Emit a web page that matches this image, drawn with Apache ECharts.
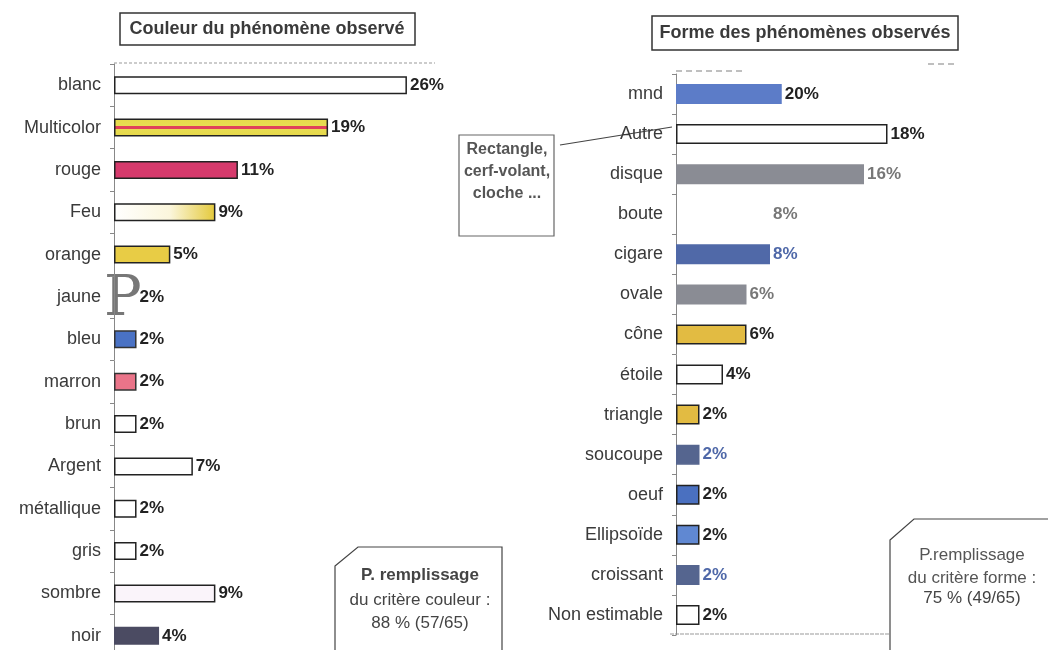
<!DOCTYPE html>
<html>
<head>
<meta charset="utf-8">
<script src="https://cdn.jsdelivr.net/npm/echarts@6/dist/echarts.min.js"></script>
<style>
  html, body { margin: 0; padding: 0; background: #fff; overflow: hidden; }
  #chart { width: 1048px; height: 662px; }
</style>
</head>
<body>
<div id="chart"></div>
<script>
// couleur du phénomène
const colorCats = ["blanc", "Multicolor", "rouge", "Feu", "orange", "jaune", "bleu", "marron", "brun", "Argent", "métallique", "gris", "sombre", "noir"];
const colorValues = [26, 19, 11, 9, 5, 2, 2, 2, 2, 7, 2, 2, 9, 4];

// forme des phénomènes
const shapeCats = ["mnd", "Autre", "disque", "boute", "cigare", "ovale", "cône", "étoile", "triangle", "soucoupe", "oeuf", "Ellipsoïde", "croissant", "Non estimable"];
const shapeValues = [9, 18, 16, 8, 8, 6, 6, 4, 2, 2, 2, 2, 2, 2];
const shapeLabels = ["20%", "18%", "16%", "8%", "8%", "6%", "6%", "4%", "2%", "2%", "2%", "2%", "2%", "2%"];

const FONT = "Liberation Sans";
const DARK = "#222";

const multi = {
  type: "linear", x: 0, y: 0, x2: 0, y2: 1,
  colorStops: [
    { offset: 0, color: "#e6d94a" }, { offset: 0.42, color: "#e8dc52" },
    { offset: 0.44, color: "#e0405a" }, { offset: 0.56, color: "#e0405a" },
    { offset: 0.58, color: "#e8dc52" }, { offset: 1, color: "#e6d94a" }
  ]
};
const feu = {
  type: "linear", x: 0, y: 0, x2: 1, y2: 0,
  colorStops: [{ offset: 0, color: "#ffffff" }, { offset: 0.55, color: "#fbf6dc" }, { offset: 1, color: "#e4c93a" }]
};

// fill, border, label colour
const colorStyles = [
  ["#ffffff", DARK, DARK],
  [multi, DARK, DARK],
  ["#d63a6c", DARK, DARK],
  [feu, DARK, DARK],
  ["#e8cc45", DARK, DARK],
  ["rgba(0,0,0,0)", "rgba(0,0,0,0)", DARK],
  ["#4a72c4", "#333", DARK],
  ["#ea7489", "#333", DARK],
  ["#ffffff", DARK, DARK],
  ["#ffffff", DARK, DARK],
  ["#ffffff", DARK, DARK],
  ["#ffffff", DARK, DARK],
  ["#faf4fa", DARK, DARK],
  ["#4b4b62", "#4b4b62", DARK]
];
const shapeStyles = [
  ["#5c7cc8", "#5c7cc8", DARK],
  ["#ffffff", DARK, DARK],
  ["#8a8c94", "#8a8c94", "#777"],
  ["rgba(0,0,0,0)", "rgba(0,0,0,0)", "#777"],
  ["#5069a8", "#5069a8", "#4f68a8"],
  ["#8a8c94", "#8a8c94", "#777"],
  ["#e2bb42", DARK, DARK],
  ["#ffffff", DARK, DARK],
  ["#e2bb42", DARK, DARK],
  ["#55658f", "#55658f", "#4f68a8"],
  ["#4a70c0", DARK, DARK],
  ["#6088d2", DARK, DARK],
  ["#55658f", "#55658f", "#4f68a8"],
  ["#ffffff", DARK, DARK]
];

function barData(values, styles, labels) {
  return values.map((v, i) => ({
    value: v,
    itemStyle: { color: styles[i][0], borderColor: styles[i][1], borderWidth: 1.5 },
    label: { color: styles[i][2], formatter: labels ? labels[i] : v + "%" }
  }));
}

const catAxis = (gridIndex, data) => ({
  type: "category",
  gridIndex: gridIndex,
  data: data,
  inverse: true,
  axisLine: { show: true, lineStyle: { color: "#888", width: 1 } },
  axisTick: { show: true, length: 4, lineStyle: { color: "#888" } },
  axisLabel: { color: "#3a3a3a", fontSize: 18, fontFamily: FONT, margin: 13 }
});

const valAxis = (gridIndex) => ({
  type: "value",
  gridIndex: gridIndex,
  min: 0,
  max: 30,
  show: false
});

const labelStyle = { show: true, position: "right", distance: 3, fontSize: 17, fontWeight: "bold", fontFamily: FONT };

const chart = echarts.init(document.getElementById("chart"));
chart.setOption({
  animation: false,
  backgroundColor: "#fff",
  grid: [
    { left: 114, top: 64, width: 338, height: 593 },
    { left: 676, top: 74, width: 352.5, height: 561 }
  ],
  xAxis: [valAxis(0), valAxis(1)],
  yAxis: [catAxis(0, colorCats), catAxis(1, shapeCats)],
  series: [
    {
      type: "bar",
      xAxisIndex: 0,
      yAxisIndex: 0,
      barWidth: 18,
      label: labelStyle,
      data: barData(colorValues, colorStyles)
    },
    {
      type: "bar",
      xAxisIndex: 1,
      yAxisIndex: 1,
      barWidth: 20,
      label: labelStyle,
      data: barData(shapeValues, shapeStyles, shapeLabels)
    }
  ],
  graphic: [
    // titles
    { type: "rect", shape: { x: 120, y: 13, width: 295, height: 32 }, style: { fill: "#fff", stroke: "#333", lineWidth: 1.5 } },
    { type: "text", x: 267, y: 29, style: { text: "Couleur du phénomène observé", fill: "#3a3a3a", font: "bold 18px 'Liberation Sans'", align: "center", verticalAlign: "middle" } },
    { type: "rect", shape: { x: 652, y: 16, width: 306, height: 34 }, style: { fill: "#fff", stroke: "#333", lineWidth: 1.5 } },
    { type: "text", x: 805, y: 33, style: { text: "Forme des phénomènes observés", fill: "#3a3a3a", font: "bold 18px 'Liberation Sans'", align: "center", verticalAlign: "middle" } },
    // top / bottom rules
    { type: "line", shape: { x1: 114, y1: 63, x2: 435, y2: 63 }, style: { stroke: "#999", lineWidth: 1, lineDash: [3, 2] } },
    { type: "line", shape: { x1: 676, y1: 71, x2: 742, y2: 71 }, style: { stroke: "#aaa", lineWidth: 1.5, lineDash: [6, 4] } },
    { type: "line", shape: { x1: 928, y1: 64, x2: 958, y2: 64 }, style: { stroke: "#aaa", lineWidth: 1.5, lineDash: [6, 4] } },
    { type: "line", shape: { x1: 670, y1: 634, x2: 958, y2: 634 }, style: { stroke: "#999", lineWidth: 1, lineDash: [4, 1] } },
    // jaune mark
    { type: "text", x: 104, y: 272, style: { text: "P", fill: "#777", font: "56px 'DejaVu Serif'" } },
    // annotation for Autre
    { type: "rect", shape: { x: 459, y: 135, width: 95, height: 101 }, style: { fill: "#fff", stroke: "#666", lineWidth: 1.2 } },
    { type: "text", x: 507, y: 139, style: { text: "Rectangle,\ncerf-volant,\ncloche ...", fill: "#555", font: "bold 16px 'Liberation Sans'", align: "center", lineHeight: 22 } },
    { type: "line", shape: { x1: 560, y1: 145, x2: 672, y2: 127 }, style: { stroke: "#444", lineWidth: 1.2 } },
    // remplissage boxes
    { type: "polygon", shape: { points: [[335, 566], [358, 547], [502, 547], [502, 670], [335, 670]] }, style: { fill: "#fff", stroke: "#444", lineWidth: 1.2 } },
    { type: "text", x: 420, y: 567, style: { text: "P. remplissage", fill: "#444", font: "bold 17px 'Liberation Sans'", align: "center" } },
    { type: "text", x: 420, y: 589, style: { text: "du critère couleur :\n88 % (57/65)", fill: "#444", font: "17px 'Liberation Sans'", align: "center", lineHeight: 23 } },
    { type: "polygon", shape: { points: [[890, 540], [914, 519], [1052, 519], [1052, 670], [890, 670]] }, style: { fill: "#fff", stroke: "#444", lineWidth: 1.2 } },
    { type: "text", x: 972, y: 544, style: { text: "P.remplissage\ndu critère forme :", fill: "#555", font: "17px 'Liberation Sans'", align: "center", lineHeight: 23 } },
    { type: "text", x: 972, y: 590, style: { text: "75 % (49/65)", fill: "#444", font: "17px 'Liberation Sans'", align: "center" } }
  ]
});
</script>
</body>
</html>
